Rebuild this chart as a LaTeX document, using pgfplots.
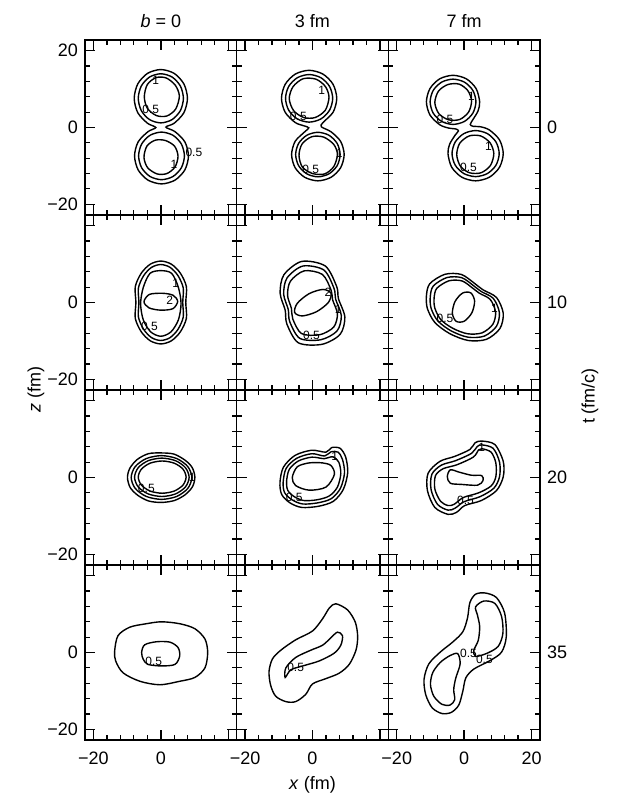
\documentclass[border=0pt]{standalone}
\usepackage{fontspec}
\setmainfont{Liberation Sans}
\usepackage{pgfplots}
\pgfplotsset{compat=1.18}
\usepgfplotslibrary{groupplots}
\newcommand{\lab}{\fontsize{9}{10.8}\selectfont}
\tikzset{cl/.style={font=\fontsize{6}{6}\selectfont, inner sep=0pt}}
\pgfplotsset{ct/.style={black, line width=0.7pt, smooth cycle, mark=none}}

\begin{document}
\begin{tikzpicture}
\begin{groupplot}[
  group style={group size=3 by 4, horizontal sep=0pt, vertical sep=0pt},
  scale only axis, width=75.83pt, height=87.5pt,
  xmin=-22.5, xmax=22.5, ymin=-22.8, ymax=22.8,
  xtick={-20,0,20}, ytick={-20,0,20},
  minor x tick num=4, minor y tick num=4,
  tick align=inside, tick pos=both,
  major tick length=5pt, minor tick length=2.5pt,
  xticklabels={}, yticklabels={},
  tick label style={font=\lab},
  xticklabel style={yshift=-2.5pt},
  axis line style={line width=0.7pt},
  every major tick/.append style={black, line width=0.7pt},
  every minor tick/.append style={black, line width=0.6pt},
  clip=false,
]

% ---------------- t = 0 ----------------
\nextgroupplot[yticklabels={−20,0,20}]
\addplot[ct] coordinates {(1.5,0.1) (3.95,1.1) (6.84,3.85) (7.9,7.6) (6.84,11.35) (3.95,14.1) (0,15.1) (-3.95,14.1) (-6.84,11.35) (-7.9,7.6) (-6.84,3.85) (-3.95,1.1) (-1.5,0) (-3.8,-1.08) (-6.73,-3.75) (-7.8,-7.4) (-6.73,-11.05) (-3.8,-13.72) (0.2,-14.7) (4.2,-13.72) (7.13,-11.05) (8.2,-7.4) (7.13,-3.75) (4.2,-1.08)};
\addplot[ct] coordinates {(6.7,7.6) (5.8,10.8) (3.35,13.14) (0,14.0) (-3.35,13.14) (-5.8,10.8) (-6.7,7.6) (-5.8,4.4) (-3.35,2.06) (0,1.2) (3.35,2.06) (5.8,4.4)};
\addplot[ct] coordinates {(7.0,-7.4) (6.09,-4.3) (3.6,-2.03) (0.2,-1.2) (-3.2,-2.03) (-5.69,-4.3) (-6.6,-7.4) (-5.69,-10.5) (-3.2,-12.77) (0.2,-13.6) (3.6,-12.77) (6.09,-10.5)};
\addplot[ct] coordinates {(5.5,8.2) (4.3,11.0) (1.6,12.9) (-1.4,13.0) (-4.0,11.2) (-4.9,8.0) (-4.0,5.0) (-1.3,3.1) (1.8,3.0) (4.4,4.8)};
\addplot[ct] coordinates {(5.1,-7.5) (4.1,-4.9) (1.4,-3.4) (-1.6,-3.3) (-4.1,-4.8) (-5.0,-7.8) (-3.9,-10.5) (-1.1,-12.1) (1.8,-12.0) (4.2,-10.3)};
\node[cl] at (axis cs:-1.5,12.4) {1};
\node[cl] at (axis cs:-3.0,4.6) {0.5};
\node[cl] at (axis cs:9.8,-6.4) {0.5};
\node[cl] at (axis cs:3.9,-9.6) {1};

\nextgroupplot
\addplot[ct] coordinates {(7.2,7.6) (6.1,11.25) (3.1,13.92) (-1.0,14.9) (-5.1,13.92) (-8.1,11.25) (-9.2,7.6) (-8.1,3.95) (-5.1,1.28) (-2.4,0.4) (-1.1,-0.1) (-2.3,-1.12) (-5.15,-3.62) (-6.2,-7.05) (-5.15,-10.48) (-2.3,-12.98) (1.6,-13.9) (5.5,-12.98) (8.35,-10.48) (9.4,-7.05) (8.35,-3.62) (5.5,-1.12) (2.6,0.2) (3.1,1.28) (6.1,3.95)};
\addplot[ct] coordinates {(6.0,7.6) (5.06,10.7) (2.5,12.97) (-1.0,13.8) (-4.5,12.97) (-7.06,10.7) (-8.0,7.6) (-7.06,4.5) (-4.5,2.23) (-1.0,1.4) (2.5,2.23) (5.06,4.5)};
\addplot[ct] coordinates {(8.2,-7.05) (7.32,-4.15) (4.9,-2.03) (1.6,-1.25) (-1.7,-2.03) (-4.12,-4.15) (-5.0,-7.05) (-4.12,-9.95) (-1.7,-12.07) (1.6,-12.85) (4.9,-12.07) (7.32,-9.95)};
\addplot[ct] coordinates {(4.9,7.9) (3.8,10.7) (1.0,12.6) (-2.8,12.7) (-5.8,10.6) (-6.9,7.5) (-5.6,4.4) (-2.6,2.6) (0.8,2.6) (3.8,4.5)};
\addplot[ct] coordinates {(7.4,-7.0) (6.3,-4.4) (3.3,-2.5) (-0.2,-2.4) (-3.1,-4.3) (-4.0,-7.3) (-3.0,-10.3) (0.0,-12.0) (3.6,-12.1) (6.3,-10.2)};
\node[cl] at (axis cs:2.7,9.8) {1};
\node[cl] at (axis cs:-4.2,3.0) {0.5};
\node[cl] at (axis cs:7.9,-6.8) {1};
\node[cl] at (axis cs:-0.5,-10.8) {0.5};

\nextgroupplot
\addplot[ct] coordinates {(4.6,6.7) (3.54,10.15) (0.65,12.68) (-3.3,13.6) (-7.25,12.68) (-10.14,10.15) (-11.2,6.7) (-10.14,3.25) (-7.25,0.72) (-4.6,-0.15) (-2.4,-0.4) (-1.7,-0.9) (-2.6,-1.9) (-4.31,-4.37) (-4.8,-6.8) (-3.7,-10.35) (-0.7,-12.95) (3.4,-13.9) (7.5,-12.95) (10.5,-10.35) (11.6,-6.8) (10.5,-3.25) (7.5,-0.65) (4.8,0.2) (2.7,0.3) (1.8,0.8) (2.75,2.26) (4.13,4.34)};
\addplot[ct] coordinates {(3.5,6.7) (2.59,9.65) (0.1,11.81) (-3.3,12.6) (-6.7,11.81) (-9.19,9.65) (-10.1,6.7) (-9.19,3.75) (-6.7,1.59) (-3.3,0.8) (0.1,1.59) (2.59,3.75)};
\addplot[ct] coordinates {(10.4,-6.8) (9.46,-3.8) (6.9,-1.6) (3.4,-0.8) (-0.1,-1.6) (-2.66,-3.8) (-3.6,-6.8) (-2.66,-9.8) (-0.1,-12.0) (3.4,-12.8) (6.9,-12.0) (9.46,-9.8)};
\addplot[ct] coordinates {(2.2,6.9) (1.1,9.6) (-1.5,11.3) (-4.8,11.2) (-7.6,9.5) (-8.7,6.5) (-7.5,3.6) (-4.6,2.0) (-1.3,2.1) (1.3,4.0)};
\addplot[ct] coordinates {(8.8,-6.8) (7.7,-4.0) (4.9,-2.2) (1.5,-2.2) (-1.3,-4.1) (-2.2,-7.1) (-1.1,-10.1) (1.6,-11.8) (5.0,-11.8) (7.8,-9.9)};
\node[cl] at (axis cs:2.2,8.2) {1};
\node[cl] at (axis cs:-5.7,2.0) {0.5};
\node[cl] at (axis cs:7.2,-5.0) {1};
\node[cl] at (axis cs:1.3,-10.4) {0.5};
\node[anchor=west, font=\lab] at (axis cs:22.5,0) {0};

% ---------------- t = 10 ----------------
\nextgroupplot[yticklabels={−20,0,{}}]
\addplot[ct] coordinates {(7.4,0) (7.58,4.14) (5.80,7.64) (3.14,9.98) (0,10.8) (-3.14,9.98) (-5.80,7.64) (-7.58,4.14) (-7.4,0) (-7.58,-4.14) (-5.80,-7.64) (-3.14,-9.98) (0,-10.8) (3.14,-9.98) (5.80,-7.64) (7.58,-4.14)};
\addplot[ct] coordinates {(6.5,0) (6.65,3.79) (5.09,7.0) (2.76,9.15) (0,9.9) (-2.76,9.15) (-5.09,7.0) (-6.65,3.79) (-6.5,0) (-6.65,-3.79) (-5.09,-7.0) (-2.76,-9.15) (0,-9.9) (2.76,-9.15) (5.09,-7.0) (6.65,-3.79)};
\addplot[ct] coordinates {(6.0,-0.3) (5.2,3.95) (3.2,7.6) (0,8.3) (-3.2,7.6) (-5.2,3.95) (-6.0,-0.3) (-5.2,-4.55) (-3.0,-7.66) (0,-8.8) (3.0,-7.66) (5.2,-4.55)};
\addplot[ct] coordinates {(5.0,0.3) (3.6,1.9) (0.5,2.4) (-3.4,2.1) (-5.0,0.2) (-3.5,-1.4) (0,-2.0) (3.6,-1.6)};
\node[cl] at (axis cs:4.4,5.0) {1};
\node[cl] at (axis cs:2.6,0.6) {2};
\node[cl] at (axis cs:-3.4,-6.2) {0.5};

\nextgroupplot
\addplot[ct] coordinates {(-3.2,10.7) (3.8,9.5) (7.2,4.1) (7.7,1.0) (9.6,-3.8) (8.2,-8.3) (2.8,-10.9) (-4.2,-10.5) (-7.6,-5.6) (-8.1,-2.0) (-9.6,2.4) (-8.5,7.2)};
\addplot[ct] coordinates {(-2.85,9.5) (3.4,8.45) (6.4,3.65) (6.85,0.9) (8.55,-3.4) (7.3,-7.4) (2.5,-9.7) (-3.75,-9.35) (-6.75,-5.0) (-7.2,-1.8) (-8.55,2.15) (-7.55,6.4)};
\addplot[ct] coordinates {(-2.45,8.25) (2.95,7.3) (5.55,3.15) (5.95,0.75) (7.4,-2.95) (6.3,-6.4) (2.15,-8.4) (-3.25,-8.1) (-5.85,-4.3) (-6.25,-1.55) (-7.4,1.85) (-6.55,5.55)};
\addplot[ct] coordinates {(5.5,2.4) (3.1,3.4) (-1.0,2.3) (-4.5,-0.2) (-5.3,-2.6) (-3.0,-3.5) (1.2,-2.4) (4.7,0.0)};
\node[cl] at (axis cs:4.6,2.6) {2};
\node[cl] at (axis cs:7.6,-1.8) {1};
\node[cl] at (axis cs:-0.3,-8.5) {0.5};

\nextgroupplot
\addplot[ct] coordinates {(-11.2,1.7) (-10.2,4.9) (-5.7,7.35) (-0.8,7.3) (3.2,4.9) (5.6,3.3) (9.6,1.3) (11.6,-2.8) (10.6,-6.8) (6.6,-9.6) (1.2,-9.9) (-4.3,-8.1) (-8.7,-5.2) (-10.9,-1.6)};
\addplot[ct] coordinates {(-10.06,1.42) (-9.16,4.3) (-5.11,6.5) (-0.7,6.46) (2.9,4.3) (5.06,2.86) (8.66,1.06) (10.46,-2.64) (9.56,-6.24) (5.96,-8.76) (1.1,-9.03) (-3.85,-7.4) (-7.81,-4.8) (-9.79,-1.56)};
\addplot[ct] coordinates {(-8.92,1.13) (-8.12,3.69) (-4.52,5.65) (-0.6,5.61) (2.6,3.69) (4.52,2.41) (7.72,0.81) (9.32,-2.47) (8.52,-5.67) (5.32,-7.91) (1.0,-8.15) (-3.4,-6.71) (-6.92,-4.47) (-8.68,-1.51)};
\addplot[ct] coordinates {(1.95,2.52) (-0.46,2.46) (-2.71,0.25) (-3.5,-2.8) (-2.35,-4.92) (0.06,-4.86) (2.31,-2.65) (3.1,0.4)};
\node[cl] at (axis cs:-5.7,-4.2) {0.5};
\node[cl] at (axis cs:9.0,-1.6) {1};
\node[anchor=west, font=\lab] at (axis cs:22.5,0) {10};

% ---------------- t = 20 ----------------
\nextgroupplot[yticklabels={−20,0,{}}]
\addplot[ct] coordinates {(10.1,0.1) (9.3,2.6) (7.2,4.5) (3.9,6.1) (0.1,6.4) (-3.7,6.2) (-7.0,4.7) (-9.2,2.4) (-9.9,0) (-9.1,-2.6) (-6.9,-4.6) (-3.7,-6.1) (0.1,-6.5) (4.0,-6.0) (7.2,-4.5) (9.4,-2.4)};
\addplot[ct] coordinates {(9.2,0) (8.0,2.85) (4.7,4.94) (0.2,5.7) (-4.3,4.94) (-7.6,2.85) (-8.8,0) (-7.6,-2.85) (-4.3,-4.94) (0.2,-5.7) (4.7,-4.94) (8.0,-2.85)};
\addplot[ct] coordinates {(8.4,0.05) (7.31,2.55) (4.35,4.38) (0.3,5.05) (-3.75,4.38) (-6.71,2.55) (-7.8,0.05) (-6.71,-2.45) (-3.75,-4.28) (0.3,-4.95) (4.35,-4.28) (7.31,-2.45)};
\addplot[ct] coordinates {(7.5,0.1) (6.55,2.2) (3.95,3.74) (0.4,4.3) (-3.15,3.74) (-5.75,2.2) (-6.7,0.1) (-5.75,-2.0) (-3.15,-3.54) (0.4,-4.1) (3.95,-3.54) (6.55,-2.0)};
\node[cl] at (axis cs:-4.3,-2.8) {0.5};
\node[cl] at (axis cs:9.3,0.1) {1};

\nextgroupplot
\addplot[ct] coordinates {(-9.65,-1.3) (-8.65,2.65) (-5.2,5.75) (-0.25,7.1) (4.0,6.6) (5.7,7.8) (8.2,7.6) (9.85,5.3) (10.45,1.3) (9.15,-3.1) (6.2,-6.2) (1.75,-7.5) (-3.2,-7.8) (-6.7,-6.6) (-9.15,-4.4)};
\addplot[ct] coordinates {(-8.7,-1.2) (-7.8,2.4) (-4.7,5.0) (-0.2,6.2) (3.6,5.6) (5.5,6.7) (7.6,6.6) (8.9,4.7) (9.5,1.2) (8.3,-2.8) (5.6,-5.5) (1.6,-6.6) (-2.9,-6.9) (-6.1,-5.8) (-8.3,-3.9)};
\addplot[ct] coordinates {(-7.7,-1.1) (-6.9,2.1) (-4.2,4.3) (-0.2,5.3) (3.5,4.9) (6.0,5.4) (7.8,4.0) (8.4,1.0) (7.4,-2.5) (5.0,-4.8) (1.4,-5.8) (-2.6,-6.0) (-5.4,-5.0) (-7.3,-3.4)};
\addplot[ct] coordinates {(-6.0,0) (-4.5,2.8) (-1.0,3.8) (3.0,3.8) (5.5,3.1) (6.5,0.8) (4.0,-2.5) (-1.0,-3.3) (-5.0,-2.1)};
\node[cl] at (axis cs:6.6,5.6) {1};
\node[cl] at (axis cs:-5.4,-5.1) {0.5};

\nextgroupplot
\addplot[ct] coordinates {(5.1,9.5) (9.1,8.6) (11.6,4.2) (11.6,0.2) (9.6,-3.4) (5.1,-6.0) (0.2,-7.3) (-2.3,-9.1) (-4.8,-9.6) (-8.7,-7.8) (-10.9,-3.4) (-10.7,1.1) (-7.2,4.2) (-2.8,5.5) (1.7,7.3) (3.2,9.0)};
\addplot[ct] coordinates {(5.2,8.5) (8.6,7.6) (10.5,4.0) (10.5,0.2) (8.8,-2.8) (4.7,-5.0) (0.0,-6.3) (-2.7,-8.0) (-4.8,-8.5) (-7.9,-7.0) (-9.8,-3.2) (-9.6,0.8) (-6.8,3.2) (-2.5,4.4) (2.2,6.3) (3.8,8.0)};
\addplot[ct] coordinates {(5.3,7.5) (8.0,6.6) (9.4,3.8) (9.4,0.2) (8.0,-2.2) (4.3,-4.0) (-0.2,-5.2) (-3.0,-7.0) (-4.8,-7.3) (-7.0,-6.2) (-8.7,-3.0) (-8.5,0.5) (-6.2,2.3) (-2.2,3.3) (2.7,5.3) (4.3,7.2)};
\addplot[ct] coordinates {(-4.1,2.0) (-1.5,1.4) (2.1,0.6) (5.2,0.5) (5.6,-0.8) (4.0,-2.0) (-0.8,-1.8) (-4.1,-1.5) (-5.0,0.2)};
\node[cl] at (axis cs:5.2,7.9) {1};
\node[cl] at (axis cs:0.4,-6.0) {0.5};
\node[anchor=west, font=\lab] at (axis cs:22.5,0) {20};

% ---------------- t = 35 ----------------
\nextgroupplot[yticklabels={−20,0,{}}, xticklabels={−20,0,{}}]
\addplot[ct] coordinates {(-13.7,0.4) (-12.7,4.4) (-9.2,6.6) (-4.3,7.5) (0.2,8.0) (5.6,7.5) (10.1,6.2) (13.1,3.5) (13.9,0) (13.1,-4.0) (10.1,-6.5) (5.6,-7.5) (-0.3,-8.4) (-6.2,-7.5) (-11.2,-5.3) (-13.4,-2.2)};
\addplot[ct] coordinates {(-5.7,0) (-4.8,2.0) (-1.3,2.8) (2.7,2.7) (5.1,1.3) (5.6,-0.9) (4.2,-3.1) (0.2,-3.5) (-3.8,-3.1) (-5.2,-1.8)};
\node[cl] at (axis cs:-2.1,-2.2) {0.5};

\nextgroupplot[xticklabels={−20,0,{}}]
\addplot[ct] coordinates {(6.9,12.7) (10.4,11.1) (12.7,7.9) (13.4,4.2) (12.9,0.6) (10.9,-3.1) (7.9,-5.4) (4.0,-6.8) (0,-8.2) (-2.0,-10.9) (-5.0,-12.8) (-7.9,-12.8) (-10.9,-11.4) (-12.4,-8.6) (-12.9,-5.0) (-11.9,-1.7) (-9.4,0.6) (-5.0,3.3) (0,5.6) (3.0,8.8) (5.0,11.6)};
\addplot[ct] coordinates {(7.4,5.3) (8.9,4.4) (8.4,1.9) (6.4,-0.2) (2.0,-2.2) (-2.5,-3.4) (-6.4,-4.5) (-8.1,-6.5) (-7.9,-4.0) (-5.0,-1.3) (-0.5,0.6) (3.0,1.9) (5.4,3.8)};
\node[cl] at (axis cs:-5.0,-4.0) {0.5};

\nextgroupplot[xticklabels={−20,0,20}]
\addplot[ct] coordinates {(3.4,15.2) (6.3,15.5) (9.6,14.3) (12.0,10.3) (12.5,4.1) (11.1,0.1) (7.7,-2.1) (2.9,-4.3) (0.5,-6.6) (-0.4,-10.1) (-1.6,-13.7) (-3.8,-15.6) (-6.6,-15.9) (-9.5,-14.4) (-11.4,-11.0) (-11.9,-7.0) (-10.5,-3.0) (-7.1,0.1) (-3.3,2.8) (-0.4,5.4) (1.0,9.0) (1.7,13.0)};
\addplot[ct] coordinates {(3.4,11.9) (5.8,13.4) (9.1,12.8) (11.1,9.4) (11.5,5.0) (10.1,1.6) (6.8,-0.2) (3.4,-1.0) (2.9,0.6) (4.2,3.2) (4.6,6.8) (3.9,9.9)};
\addplot[ct] coordinates {(-1.9,-0.3) (-1.2,-3.0) (-2.5,-6.7) (-3.1,-9.7) (-2.8,-12.3) (-4.2,-13.7) (-6.6,-13.5) (-9.0,-11.4) (-10.0,-8.3) (-9.3,-5.2) (-7.1,-2.6) (-4.2,-0.8)};
\node[cl] at (axis cs:1.3,-0.3) {0.5};
\node[cl] at (axis cs:6.0,-1.9) {0.5};
\node[anchor=west, font=\lab] at (axis cs:22.5,0) {35};
\end{groupplot}

\node[font=\lab, anchor=base] at ([yshift=6pt]group c1r1.north) {\textit{b} = 0};
\node[font=\lab, anchor=base] at ([yshift=6pt]group c2r1.north) {3 fm};
\node[font=\lab, anchor=base] at ([yshift=6pt]group c3r1.north) {7 fm};
\node[rotate=90, font=\lab] at ([xshift=-24.5pt]group c1r2.south west) {\textit{z} (fm)};
\node[rotate=90, font=\lab] at ([xshift=25pt, yshift=-3pt]group c3r2.south east) {t (fm/c)};
\node[font=\lab] at ([yshift=-22.5pt]group c2r4.south) {\textit{x} (fm)};
\pgfresetboundingbox
\path[use as bounding box] ([shift={(-42.5pt,20pt)}]group c1r1.north west) rectangle ([shift={(39pt,-30pt)}]group c3r4.south east);
\end{tikzpicture}
\end{document}
